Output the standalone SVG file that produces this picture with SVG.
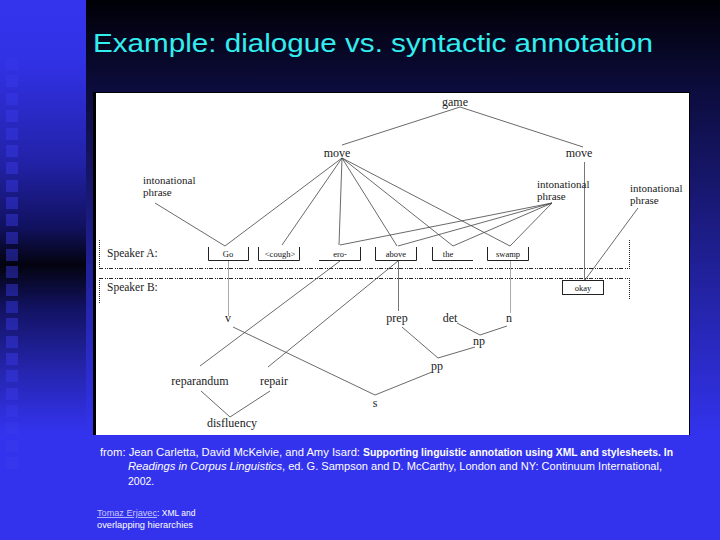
<svg xmlns="http://www.w3.org/2000/svg" width="720" height="540" viewBox="0 0 720 540">
<defs>
<linearGradient id="gMain" x1="0" y1="0" x2="0" y2="1">
<stop offset="0" stop-color="#000006"/>
<stop offset="0.2" stop-color="#0c0c3c"/>
<stop offset="1" stop-color="#3333ee"/>
</linearGradient>
<linearGradient id="gLeft" x1="0" y1="0" x2="0" y2="1">
<stop offset="0" stop-color="#3434ee"/>
<stop offset="0.12" stop-color="#3131e4"/>
<stop offset="0.3" stop-color="#2222a8"/>
<stop offset="0.42" stop-color="#111160"/>
<stop offset="0.49" stop-color="#03030f"/>
<stop offset="0.57" stop-color="#121262"/>
<stop offset="0.68" stop-color="#2424aa"/>
<stop offset="0.8" stop-color="#3333ee"/>
<stop offset="1" stop-color="#3333ee"/>
</linearGradient>
<style>
.t{font-family:"Liberation Serif","DejaVu Serif",serif;font-size:12px;fill:#222}
.ip{font-family:"Liberation Serif","DejaVu Serif",serif;font-size:11px;fill:#222}
.sp{font-family:"Liberation Serif","DejaVu Serif",serif;font-size:11.5px;fill:#222}
.w{font-family:"Liberation Serif","DejaVu Serif",serif;font-size:8.5px;fill:#111;text-anchor:middle}
.c{stroke:#444;stroke-width:0.8;fill:none}
.g{stroke:#aaa;stroke-width:1;fill:none}
.gd{stroke:#777;stroke-width:1;fill:none}
.bx{stroke:#222;stroke-width:1;fill:none}
.dot{stroke:#222;stroke-width:1;stroke-dasharray:1,1;fill:none}
.dash{stroke:#222;stroke-width:1;stroke-dasharray:4,2,1,1,1,1;fill:none}
.f{font-family:"Liberation Sans","DejaVu Sans",sans-serif;font-size:10.5px;fill:#fff}
.sm{font-family:"Liberation Sans","DejaVu Sans",sans-serif;font-size:8.5px;fill:#fff}
.sq{fill:#3a3ae8;opacity:0.45}
</style>
</defs>
<g id="background">
<rect x="0" y="0" width="720" height="540" fill="#3333ee"/>
<rect x="0" y="0" width="86" height="540" fill="url(#gLeft)"/>
<rect x="86" y="0" width="634" height="436" fill="url(#gMain)"/>
<g id="squares">
<rect class="sq" x="6" y="58" width="12" height="12"/>
<rect class="sq" x="6" y="75" width="12" height="12"/>
<rect class="sq" x="6" y="93" width="12" height="12"/>
<rect class="sq" x="6" y="110" width="12" height="12"/>
<rect class="sq" x="6" y="128" width="12" height="12"/>
<rect class="sq" x="6" y="145" width="12" height="12"/>
<rect class="sq" x="6" y="162" width="12" height="12"/>
<rect class="sq" x="6" y="180" width="12" height="12"/>
<rect class="sq" x="6" y="197" width="12" height="12"/>
<rect class="sq" x="6" y="214" width="12" height="12"/>
<rect class="sq" x="6" y="232" width="12" height="12"/>
<rect class="sq" x="6" y="249" width="12" height="12"/>
<rect class="sq" x="6" y="266" width="12" height="12"/>
<rect class="sq" x="6" y="284" width="12" height="12"/>
<rect class="sq" x="6" y="301" width="12" height="12"/>
<rect class="sq" x="6" y="318" width="12" height="12"/>
<rect class="sq" x="6" y="336" width="12" height="12"/>
<rect class="sq" x="6" y="353" width="12" height="12"/>
<rect class="sq" x="6" y="370" width="12" height="12"/>
<rect class="sq" x="6" y="388" width="12" height="12"/>
<rect class="sq" x="6" y="405" width="12" height="12"/>
<rect class="sq" x="6" y="422" width="12" height="12"/>
<rect class="sq" x="6" y="440" width="12" height="12"/>
<rect class="sq" x="6" y="457" width="12" height="12"/>
</g>
</g>
<text id="title" x="93" y="52" font-family="'Liberation Sans','DejaVu Sans',sans-serif" font-size="26" fill="#33eeee" textLength="560" lengthAdjust="spacingAndGlyphs">Example: dialogue vs. syntactic annotation</text>
<g id="figure">
<rect x="93" y="92" width="597" height="343" fill="#000"/>
<rect x="96" y="93" width="593" height="342" fill="#fff"/>
</g>
<g id="speaker-regions">
<path class="dot" d="M99.5 240 V268"/>
<path class="dot" d="M629.5 240 V268"/>
<path class="dash" d="M99 268.5 H630"/>
<path class="dash" d="M99 278.5 H630"/>
<path class="dot" d="M99.5 278 V303"/>
<path class="dot" d="M629.5 278 V300"/>
</g>
<g id="connectors">
<path class="c" d="M460 107 L342 145"/>
<path class="c" d="M460 107 L583 147"/>
<path class="gd" d="M584.5 162 V280"/>
<path class="c" d="M342 158 L225 246"/>
<path class="c" d="M342 158 L282 245"/>
<path class="c" d="M342 158 L339 245"/>
<path class="c" d="M342 158 L397 246"/>
<path class="c" d="M342 158 L453 246"/>
<path class="c" d="M342 158 L510 246"/>
<path class="c" d="M155 203 L225 246"/>
<path class="c" d="M552 203 L340 245"/>
<path class="c" d="M552 203 L398 246"/>
<path class="c" d="M552 203 L453 246"/>
<path class="c" d="M552 203 L510 246"/>
<path class="c" d="M638 208 L585 280"/>
<path class="g" d="M228.5 260 V316"/>
<path class="gd" d="M398.5 260 V311"/>
<path class="g" d="M510.5 260 V313"/>
<path class="c" d="M457 323 L480 335 L507 326"/>
<path class="c" d="M402 327 L438 358 L475 347"/>
<path class="c" d="M432 372 L375 395 L233 327"/>
<path class="c" d="M200 366 L340 261"/>
<path class="c" d="M268 367 L398 261"/>
<path class="c" d="M201 391 L230 417 L270 391"/>
</g>
<g id="node-game"><text class="t" x="455" y="106" text-anchor="middle">game</text></g>
<g id="node-move1"><text class="t" x="337" y="157" text-anchor="middle">move</text></g>
<g id="node-move2"><text class="t" x="579" y="157" text-anchor="middle">move</text></g>
<g id="node-ip1"><text class="ip" x="143" y="184">intonational</text><text class="ip" x="143" y="196">phrase</text></g>
<g id="node-ip2"><text class="ip" x="537" y="188">intonational</text><text class="ip" x="537" y="200">phrase</text></g>
<g id="node-ip3"><text class="ip" x="630" y="192">intonational</text><text class="ip" x="630" y="204">phrase</text></g>
<g id="label-speakerA"><text class="sp" x="107" y="257">Speaker A:</text></g>
<g id="label-speakerB"><text class="sp" x="107" y="291">Speaker B:</text></g>
<g id="word-go"><path class="bx" d="M208.5 247 V260.5 H248.5 V247"/><text class="w" x="228" y="257">Go</text></g>
<g id="word-cough"><path class="bx" d="M258.5 247 V260.5 H299.5 V247"/><text class="w" x="280" y="257">&lt;cough&gt;</text></g>
<g id="word-ero"><path class="bx" d="M319 260.5 H360.5 V247"/><text class="w" x="340" y="257">ero-</text></g>
<g id="word-above"><path class="bx" d="M375.5 247 V260.5 H416.5 V247"/><text class="w" x="396" y="257">above</text></g>
<g id="word-the"><path class="bx" d="M432.5 247 V260.5 H473"/><text class="w" x="448" y="257">the</text></g>
<g id="word-swamp"><path class="bx" d="M487.5 247 V260.5 H528.5 V247"/><text class="w" x="508" y="257">swamp</text></g>
<g id="word-okay"><rect class="bx" x="562.5" y="280.5" width="41" height="14"/><text class="w" x="583" y="291">okay</text></g>
<g id="node-v"><text class="t" x="228" y="322" text-anchor="middle">v</text></g>
<g id="node-prep"><text class="t" x="397" y="322" text-anchor="middle">prep</text></g>
<g id="node-det"><text class="t" x="450" y="322" text-anchor="middle">det</text></g>
<g id="node-n"><text class="t" x="509" y="322" text-anchor="middle">n</text></g>
<g id="node-np"><text class="t" x="479" y="345" text-anchor="middle">np</text></g>
<g id="node-pp"><text class="t" x="437" y="370" text-anchor="middle">pp</text></g>
<g id="node-s"><text class="t" x="375" y="407" text-anchor="middle">s</text></g>
<g id="node-reparandum"><text class="t" x="200" y="385" text-anchor="middle">reparandum</text></g>
<g id="node-repair"><text class="t" x="274" y="385" text-anchor="middle">repair</text></g>
<g id="node-disfluency"><text class="t" x="232" y="427" text-anchor="middle">disfluency</text></g>
<g id="caption">
<text class="f" x="100" y="456" textLength="260" lengthAdjust="spacingAndGlyphs">from: Jean Carletta, David McKelvie, and Amy Isard:</text>
<text class="f" x="363" y="456" font-weight="bold" textLength="310" lengthAdjust="spacingAndGlyphs">Supporting linguistic annotation using XML and stylesheets. In</text>
<text class="f" x="128" y="470" font-style="italic" textLength="154" lengthAdjust="spacingAndGlyphs">Readings in Corpus Linguistics</text>
<text class="f" x="282" y="470" textLength="380" lengthAdjust="spacingAndGlyphs">, ed. G. Sampson and D. McCarthy, London and NY: Continuum International,</text>
<text class="f" x="128" y="485">2002.</text>
<text class="sm" x="97" y="516" style="fill:#c8c8ff" text-decoration="underline" textLength="60" lengthAdjust="spacingAndGlyphs">Tomaz Erjavec</text>
<text class="sm" x="157" y="516">:  XML and</text>
<text class="sm" x="97" y="528" textLength="96" lengthAdjust="spacingAndGlyphs">overlapping hierarchies</text>
</g>
</svg>
